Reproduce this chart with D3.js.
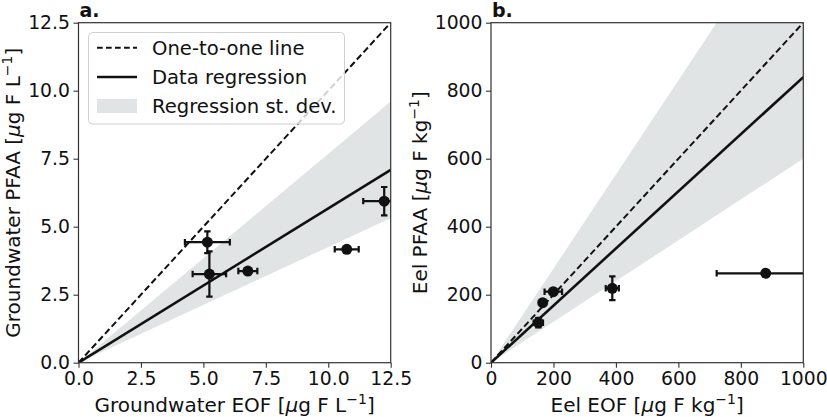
<!DOCTYPE html>
<html>
<head>
<meta charset="utf-8">
<script src="https://cdn.jsdelivr.net/npm/d3@7"></script>
<style>
  body { margin: 0; background: #fff; }
  svg { font-family: 'DejaVu Sans', sans-serif; }
</style>
</head>
<body>
<svg id="chart"></svg>
<script>
// groundwater panel (a)
let gwEOF = [5.16, 5.24, 6.78, 10.74, 12.24]
let gwEOFErr = [0.9, 0.67, 0.38, 0.48, 0.84]
let gwPFAA = [4.43, 3.26, 3.37, 4.17, 5.94]
let gwPFAAErr = [0.4, 0.83, 0.1, 0.05, 0.52]
let gwRegSlope = 0.567
let gwBand = [0.425, 0.768]
let gwTicks = [0, 2.5, 5, 7.5, 10, 12.5]

// eel panel (b)
let eelEOF = [151.5, 165.5, 199.5, 388.4, 879.6]
let eelEOFErr = [15, 4, 28, 21, 157]
let eelPFAA = [117.6, 176.5, 208.8, 218.8, 263]
let eelPFAAErr = [14, 4, 7, 35, 3]
let eelRegSlope = 0.84
let eelBand = [0.60, 1.384]
let eelTicks = [0, 200, 400, 600, 800, 1000]

let legendLabels = ['One-to-one line', 'Data regression', 'Regression st. dev.']

let width = 827
let height = 417
let plotTop = 22.7
let plotBottom = 362.7
let fontSize = 20
let tickFont = 18.8
let bandColor = '#e1e4e4'
let ink = '#111'
let dash = '6.5,3.3'

let svg = d3.select('#chart').attr('width', width).attr('height', height)

const drawPanel = (opt) => {
    let xScale = d3.scaleLinear().domain([0, opt.max]).range([opt.left, opt.right])
    let yScale = d3.scaleLinear().domain([0, opt.max]).range([plotBottom, plotTop])
    let g = svg.append('g')

    g.append('clipPath').attr('id', opt.id + '-clip')
        .append('rect')
        .attr('x', opt.left).attr('y', plotTop)
        .attr('width', opt.right - opt.left).attr('height', plotBottom - plotTop)

    let plot = g.append('g').attr('clip-path', `url(#${opt.id}-clip)`)

    // st. dev. band
    let xEnd = opt.max * 2
    plot.append('path')
        .attr('d', `M${xScale(0)},${yScale(0)} L${xScale(xEnd)},${yScale(xEnd * opt.band[1])} L${xScale(xEnd)},${yScale(xEnd * opt.band[0])} Z`)
        .attr('fill', bandColor)

    // one-to-one
    plot.append('line')
        .attr('x1', xScale(0)).attr('y1', yScale(0))
        .attr('x2', xScale(opt.max)).attr('y2', yScale(opt.max))
        .attr('stroke', ink).attr('stroke-width', 2)
        .attr('stroke-dasharray', dash)

    // regression
    plot.append('line')
        .attr('x1', xScale(0)).attr('y1', yScale(0))
        .attr('x2', xScale(opt.max)).attr('y2', yScale(opt.max * opt.slope))
        .attr('stroke', ink).attr('stroke-width', 2.6)

    // error bars + points
    let pts = opt.xs.map((x, i) => ({x: x, y: opt.ys[i], xe: opt.xe[i], ye: opt.ye[i]}))
    let cap = 3.2
    pts.forEach((p) => {
        let e = plot.append('g').attr('stroke', ink).attr('stroke-width', 2.2)
        e.append('line')
            .attr('x1', xScale(p.x - p.xe)).attr('x2', xScale(p.x + p.xe))
            .attr('y1', yScale(p.y)).attr('y2', yScale(p.y))
        e.append('line')
            .attr('x1', xScale(p.x)).attr('x2', xScale(p.x))
            .attr('y1', yScale(p.y - p.ye)).attr('y2', yScale(p.y + p.ye))
        ;[p.x - p.xe, p.x + p.xe].forEach((v) => {
            e.append('line')
                .attr('x1', xScale(v)).attr('x2', xScale(v))
                .attr('y1', yScale(p.y) - cap).attr('y2', yScale(p.y) + cap)
        })
        ;[p.y - p.ye, p.y + p.ye].forEach((v) => {
            e.append('line')
                .attr('x1', xScale(p.x) - cap).attr('x2', xScale(p.x) + cap)
                .attr('y1', yScale(v)).attr('y2', yScale(v))
        })
    })
    plot.selectAll('circle.pt')
        .data(pts)
        .enter()
        .append('circle')
        .attr('class', 'pt')
        .attr('cx', (d) => xScale(d.x))
        .attr('cy', (d) => yScale(d.y))
        .attr('r', 5.5)
        .attr('fill', ink)

    // axes
    let xAxis = d3.axisBottom(xScale).tickValues(opt.ticks).tickFormat(opt.fmt).tickSize(5).tickPadding(3.5)
    let yAxis = d3.axisLeft(yScale).tickValues(opt.ticks).tickFormat(opt.fmt).tickSize(5).tickPadding(3.5)

    let gx = g.append('g').attr('transform', `translate(0,${plotBottom})`).call(xAxis)
    let gy = g.append('g').attr('transform', `translate(${opt.left},0)`).call(yAxis)
    ;[gx, gy].forEach((a) => {
        a.select('.domain').remove()
        a.selectAll('line').attr('stroke', '#333').attr('stroke-width', 1.1)
        a.selectAll('text').attr('fill', ink).style('font-size', tickFont + 'px')
            .style('font-family', "'DejaVu Sans', sans-serif")
    })

    g.append('rect')
        .attr('x', opt.left).attr('y', plotTop)
        .attr('width', opt.right - opt.left).attr('height', plotBottom - plotTop)
        .attr('fill', 'none').attr('stroke', '#333').attr('stroke-width', 1.2)

    // axis titles
    let xt = g.append('text')
        .attr('x', (opt.left + opt.right) / 2).attr('y', 412)
        .attr('text-anchor', 'middle').style('font-size', fontSize + 'px').attr('fill', ink)
    let yt = g.append('text')
        .attr('transform', `translate(${opt.ylabX},${(plotTop + plotBottom) / 2}) rotate(-90)`)
        .attr('text-anchor', 'middle').style('font-size', fontSize + 'px').attr('fill', ink)
    ;[[xt, opt.xlab], [yt, opt.ylab]].forEach(([t, lab]) => {
        t.append('tspan').text(lab + ' [')
        t.append('tspan').text('μ').style('font-style', 'italic')
        t.append('tspan').text('g F ' + opt.unit)
        t.append('tspan').text('−1').style('font-size', (fontSize * 0.7) + 'px').attr('dy', -8)
        t.append('tspan').text(']').attr('dy', 8)
    })

    g.append('text')
        .attr('x', opt.left + 1).attr('y', 17)
        .style('font-size', '19px').style('font-weight', 'bold').attr('fill', ink)
        .text(opt.tag)
}

const drawLegend = () => {
    let lg = svg.append('g')
    lg.append('rect')
        .attr('x', 88.5).attr('y', 32.5).attr('width', 256).attr('height', 91.5).attr('rx', 4)
        .attr('fill', 'white').attr('fill-opacity', 0.8)
        .attr('stroke', '#d0d0d0').attr('stroke-width', 1)
    let rows = [47.8, 77, 106]
    lg.append('line').attr('x1', 97).attr('x2', 137).attr('y1', rows[0]).attr('y2', rows[0])
        .attr('stroke', ink).attr('stroke-width', 2).attr('stroke-dasharray', '5.7,3.3')
    lg.append('line').attr('x1', 97).attr('x2', 137).attr('y1', rows[1]).attr('y2', rows[1])
        .attr('stroke', ink).attr('stroke-width', 2.6)
    lg.append('rect').attr('x', 97).attr('y', rows[2] - 7).attr('width', 40).attr('height', 14)
        .attr('fill', bandColor)
    legendLabels.forEach((t, i) => {
        lg.append('text').attr('x', 152).attr('y', rows[i]).attr('dy', '0.36em')
            .style('font-size', '19.6px').attr('fill', ink).text(t)
    })
}

drawPanel({
    id: 'a', tag: 'a.', left: 78.5, right: 390.7, max: 12.5,
    xs: gwEOF, xe: gwEOFErr, ys: gwPFAA, ye: gwPFAAErr,
    slope: gwRegSlope, band: gwBand, ticks: gwTicks, fmt: d3.format('.1f'),
    xlab: 'Groundwater EOF', ylab: 'Groundwater PFAA', unit: 'L', ylabX: 20
})
drawPanel({
    id: 'b', tag: 'b.', left: 491, right: 803.3, max: 1000,
    xs: eelEOF, xe: eelEOFErr, ys: eelPFAA, ye: eelPFAAErr,
    slope: eelRegSlope, band: eelBand, ticks: eelTicks, fmt: d3.format('d'),
    xlab: 'Eel EOF', ylab: 'Eel PFAA', unit: 'kg', ylabX: 427
})
drawLegend()
</script>
</body>
</html>
